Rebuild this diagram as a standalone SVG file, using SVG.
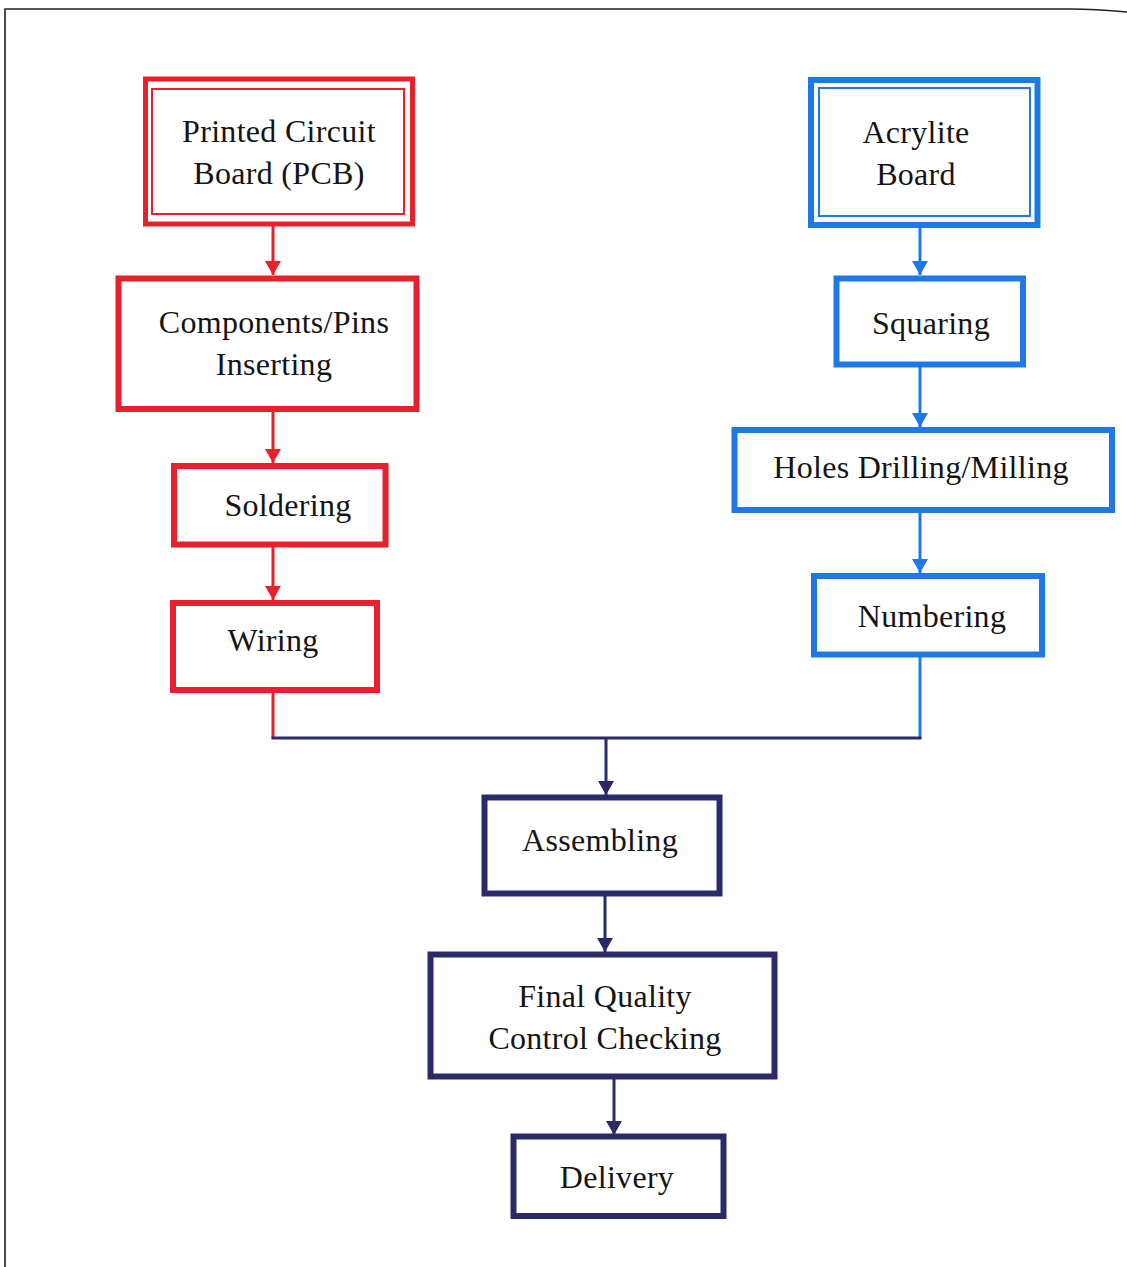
<svg xmlns="http://www.w3.org/2000/svg" width="1127" height="1267" viewBox="0 0 1127 1267">
<style>
  text { font-family: "Liberation Serif", "Times New Roman", serif; font-size: 32px; letter-spacing: 0.3px; fill: #141414; text-anchor: middle; }
  .red { fill: none; stroke: #E8202E; }
  .blue { fill: none; stroke: #1E78E6; }
  .navy { fill: none; stroke: #2B2A68; }
  .box { fill: #fff; stroke-width: 6; }
  .conn { stroke-width: 3; fill: none; }
</style>
<defs>
  <marker id="arR" markerUnits="userSpaceOnUse" markerWidth="14" markerHeight="16" viewBox="0 0 14 16" refX="14" refY="8" orient="auto">
    <path d="M0,0 L14,8 L0,16 z" fill="#E8202E"/>
  </marker>
  <marker id="arB" markerUnits="userSpaceOnUse" markerWidth="14" markerHeight="16" viewBox="0 0 14 16" refX="14" refY="8" orient="auto">
    <path d="M0,0 L14,8 L0,16 z" fill="#1E78E6"/>
  </marker>
  <marker id="arN" markerUnits="userSpaceOnUse" markerWidth="14" markerHeight="16" viewBox="0 0 14 16" refX="14" refY="8" orient="auto">
    <path d="M0,0 L14,8 L0,16 z" fill="#2B2A68"/>
  </marker>
</defs>
<rect width="1127" height="1267" fill="#fff"/>
<path d="M5,1267 V9 H1070 Q1095,9 1127,12" fill="none" stroke="#222" stroke-width="1.6"/>

<g id="connectors">
  <line class="red conn" x1="273" y1="226" x2="273" y2="275" marker-end="url(#arR)"/>
  <line class="red conn" x1="273" y1="412" x2="273" y2="463" marker-end="url(#arR)"/>
  <line class="red conn" x1="273" y1="547" x2="273" y2="600" marker-end="url(#arR)"/>
  <line class="red conn" x1="273" y1="693" x2="273" y2="738"/>
  <line class="blue conn" x1="920" y1="228" x2="920" y2="275" marker-end="url(#arB)"/>
  <line class="blue conn" x1="920" y1="367" x2="920" y2="427" marker-end="url(#arB)"/>
  <line class="blue conn" x1="920" y1="513" x2="920" y2="573" marker-end="url(#arB)"/>
  <line class="blue conn" x1="920" y1="657" x2="920" y2="738"/>
  <line class="navy conn" x1="271.5" y1="738" x2="921.5" y2="738"/>
  <line class="navy conn" x1="606" y1="738" x2="606" y2="795" marker-end="url(#arN)"/>
  <line class="navy conn" x1="605" y1="896" x2="605" y2="952" marker-end="url(#arN)"/>
  <line class="navy conn" x1="614" y1="1079" x2="614" y2="1135" marker-end="url(#arN)"/>
</g>

<g id="pcb">
  <rect class="red" x="145.5" y="79" width="267" height="145" stroke-width="5" fill="#fff"/>
  <rect class="red" x="152" y="89" width="252" height="125" stroke-width="2"/>
  <text x="279" y="142">Printed Circuit</text>
  <text x="279" y="184">Board (PCB)</text>
</g>
<g id="components">
  <rect class="red box" x="118.5" y="278.5" width="298" height="130.5"/>
  <text x="274" y="333">Components/Pins</text>
  <text x="274" y="375">Inserting</text>
</g>
<g id="soldering">
  <rect class="red box" x="174" y="466" width="211.5" height="78.5"/>
  <text x="288" y="516">Soldering</text>
</g>
<g id="wiring">
  <rect class="red box" x="173" y="603" width="204" height="87"/>
  <text x="273" y="651">Wiring</text>
</g>

<g id="acrylite">
  <rect class="blue" x="811" y="80" width="226.5" height="145" stroke-width="6" fill="#fff"/>
  <rect class="blue" x="819" y="88" width="211" height="128" stroke-width="2"/>
  <text x="916" y="143">Acrylite</text>
  <text x="916" y="185">Board</text>
</g>
<g id="squaring">
  <rect class="blue box" x="836.5" y="278.5" width="186.5" height="86"/>
  <text x="931" y="334">Squaring</text>
</g>
<g id="holes">
  <rect class="blue box" x="734.5" y="430" width="377.5" height="80"/>
  <text x="921" y="478">Holes Drilling/Milling</text>
</g>
<g id="numbering">
  <rect class="blue box" x="814" y="576" width="228" height="78.5"/>
  <text x="932" y="627">Numbering</text>
</g>

<g id="assembling">
  <rect class="navy box" x="484.5" y="797.5" width="235" height="96"/>
  <text x="600" y="851">Assembling</text>
</g>
<g id="final-qc">
  <rect class="navy box" x="430.5" y="954.5" width="344" height="122"/>
  <text x="605" y="1007">Final Quality</text>
  <text x="605" y="1049">Control Checking</text>
</g>
<g id="delivery">
  <rect class="navy box" x="513.5" y="1136.5" width="210" height="79.5"/>
  <text x="617" y="1188">Delivery</text>
</g>
</svg>
